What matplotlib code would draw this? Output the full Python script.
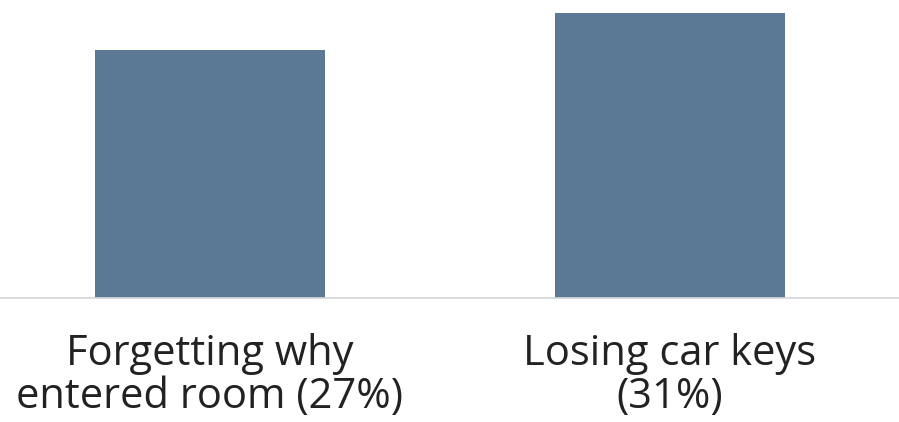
import matplotlib
matplotlib.use("Agg")
import matplotlib.pyplot as plt

categories = ["Forgetting why\nentered room (27%)", "Losing car keys\n(31%)"]
values = [27, 31]

bar_color = "#5b7895"

fig = plt.figure(figsize=(8.99, 4.22), dpi=100)
ax = fig.add_axes([0, 1 - 298 / 422, 1, 298 / 422])

x = list(range(len(categories)))
ax.bar(x, values, width=0.5, color=bar_color, zorder=2)

ax.set_xlim(-210 / 460, (899 - 210) / 460)
ax.set_ylim(0, 298 / 9.2)

for s in ["top", "left", "right"]:
    ax.spines[s].set_visible(False)
ax.spines["bottom"].set_color("#d3d6da")
ax.spines["bottom"].set_linewidth(1.2)
ax.set_yticks([])
ax.set_xticks(x)
ax.set_xticklabels(categories, fontfamily="Open Sans", fontsize=30, color="#222222",
                   linespacing=1.05)
ax.tick_params(axis="x", length=0, pad=25)

fig.savefig("out.png", dpi=100)
